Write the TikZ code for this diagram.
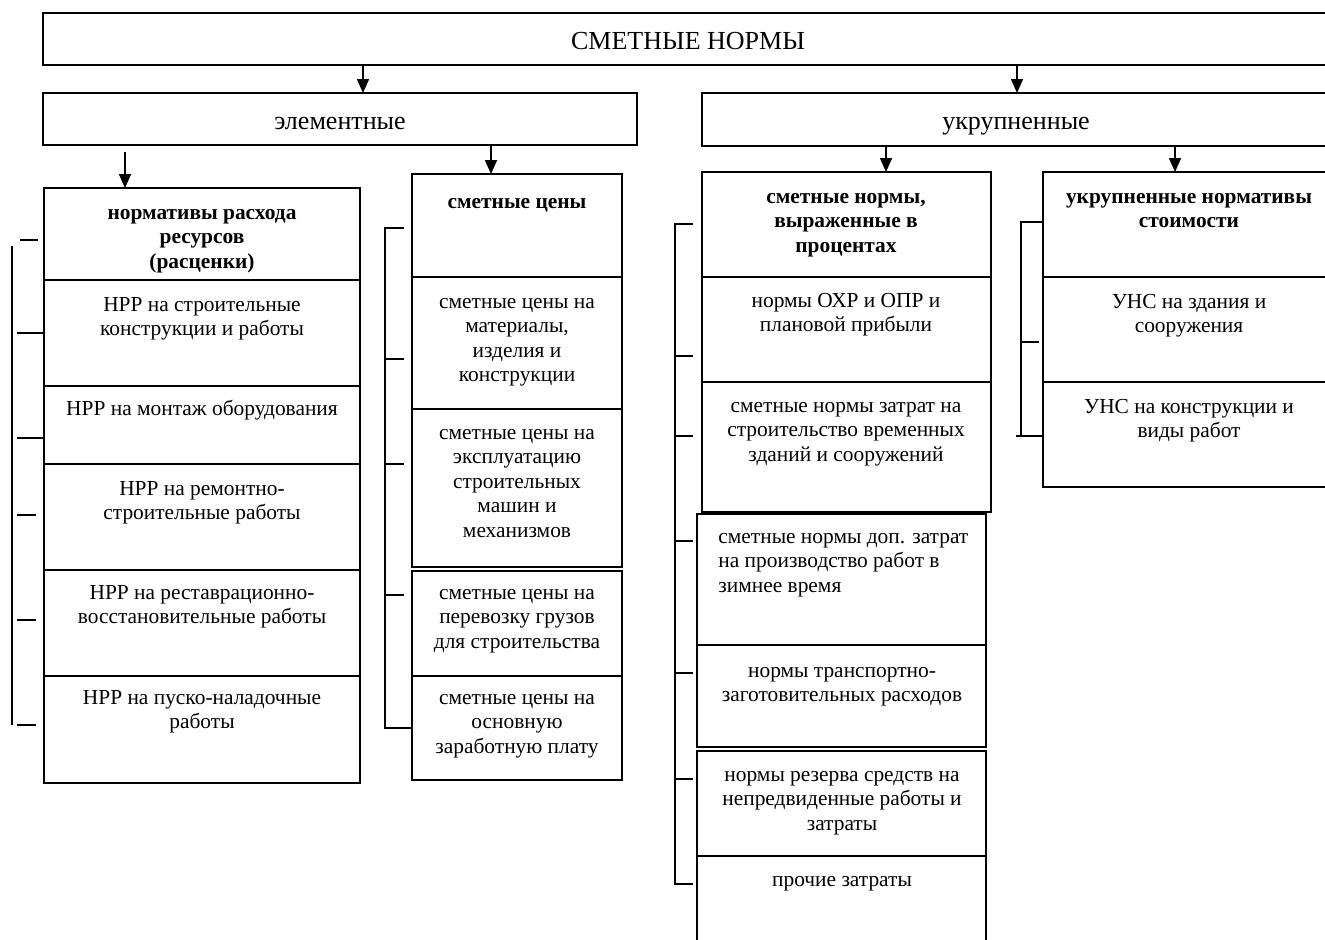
\documentclass[tikz,border=0pt]{standalone}
\usepackage{fontspec}
\setmainfont{Liberation Serif}
\usetikzlibrary{arrows.meta}
\newcommand\cellnode[5]{\node[cell, minimum width={(#4-#2)*0.5pt}, minimum height={(#5-#3)*0.5pt}] (#1) at (#2,#3) {};}
\begin{document}
\begin{tikzpicture}[x=0.5pt,y=-0.5pt,
 cell/.style={draw, line width=1pt, inner sep=0pt, outer sep=0pt, anchor=north west},
 txt/.style={align=center, inner sep=0pt, font=\fontsize{10.7}{12.3}\selectfont, anchor=base},
 btxt/.style={txt, font=\fontsize{10.7}{12.3}\selectfont\bfseries},
 big/.style={inner sep=0pt, anchor=base, font=\fontsize{13}{15}\selectfont},
 arr/.style={line width=0.8pt, -{Triangle[length=7pt,width=6pt]}},
 br/.style={line width=0.7pt}]
\useasboundingbox (0,0) rectangle (1325,939);
\clip (0,0) rectangle (1325,939);
% level 0 and 1
\cellnode{top}{43}{13}{1345}{65}
\node[big] (ttop) at (688,49) {СМЕТНЫЕ НОРМЫ};
\cellnode{elem}{43}{93}{637}{145}
\node[big] (telem) at (340,129) {элементные};
\cellnode{ukr}{702}{93}{1345}{146}
\node[big] (tukr) at (1016,129) {укрупненные};
% column 1: NRR
\cellnode{nh}{44}{188}{360}{280}
\node[btxt] (tnh) at (202,268.2) {нормативы расхода\\ресурсов\\(расценки)};
\cellnode{n1}{44}{280}{360}{386}
\node[txt] (tn1) at (202,335.6) {НРР на строительные\\конструкции и работы};
\cellnode{n2}{44}{386}{360}{464}
\node[txt] (tn2) at (202,415) {НРР на монтаж оборудования};
\cellnode{n3}{44}{464}{360}{570}
\node[txt] (tn3) at (202,519.6) {НРР на ремонтно-\\строительные работы};
\cellnode{n4}{44}{570}{360}{676}
\node[txt] (tn4) at (202,623.6) {НРР на реставрационно-\\восстановительные работы};
\cellnode{n5}{44}{676}{360}{783}
\node[txt] (tn5) at (202,728.6) {НРР на пуско-наладочные\\работы};
% column 2: prices
\cellnode{ch}{412}{174}{622}{277}
\node[btxt] (tch) at (517,208) {сметные цены};
\cellnode{c1}{412}{277}{622}{409}
\node[txt] (tc1) at (517,381.8) {сметные цены на\\материалы,\\изделия и\\конструкции};
\cellnode{c2}{412}{409}{622}{567}
\node[txt] (tc2) at (517,537.4) {сметные цены на\\эксплуатацию\\строительных\\машин и\\механизмов};
\cellnode{c3}{412}{571}{622}{676}
\node[txt] (tc3) at (517,648.2) {сметные цены на\\перевозку грузов\\для строительства};
\cellnode{c4}{412}{676}{622}{780}
\node[txt] (tc4) at (517,753.2) {сметные цены на\\основную\\заработную плату};
% column 3: percent
\cellnode{ph}{702}{172}{991}{277}
\node[btxt] (tph) at (846,252.2) {сметные нормы,\\выраженные в\\процентах};
\cellnode{p1}{702}{277}{991}{382}
\node[txt] (tp1) at (846,331.6) {нормы ОХР и ОПР и\\плановой прибыли};
\cellnode{p2}{702}{382}{991}{512}
\node[txt] (tp2) at (846,461.2) {сметные нормы затрат на\\строительство временных\\зданий и сооружений};
\cellnode{p3}{697}{514}{986}{645}
\node[txt, align=left, anchor=base west] (tp3) at (718,592.2) {сметные нормы доп. затрат\\на производство работ в\\зимнее время};
\cellnode{p4}{697}{645}{986}{747}
\node[txt] (tp4) at (842,701.6) {нормы транспортно-\\заготовительных расходов};
\cellnode{p5}{697}{751}{986}{856}
\node[txt] (tp5) at (842,830.2) {нормы резерва средств на\\непредвиденные работы и\\затраты};
\cellnode{p6}{697}{856}{986}{960}
\node[txt] (tp6) at (842,886) {прочие затраты};
% column 4: UNS
\cellnode{uh}{1043}{172}{1345}{277}
\node[btxt] (tuh) at (1189,227.6) {укрупненные нормативы\\стоимости};
\cellnode{u1}{1043}{277}{1345}{382}
\node[txt] (tu1) at (1189,332.6) {УНС на здания и\\сооружения};
\cellnode{u2}{1043}{382}{1345}{487}
\node[txt] (tu2) at (1189,437.6) {УНС на конструкции и\\виды работ};
% arrows
\coordinate (xa1) at (363,0);
\coordinate (xa2) at (1017,0);
\coordinate (xa4) at (491,0);
\coordinate (xa5) at (886,0);
\coordinate (xa6) at (1175,0);
\coordinate (s3) at (125,152);
\draw[arr] (top.south -| xa1) -- (elem.north -| xa1);
\draw[arr] (top.south -| xa2) -- (ukr.north -| xa2);
\draw[arr] (s3) -- (nh.north -| s3);
\draw[arr] (elem.south -| xa4) -- (ch.north -| xa4);
\draw[arr] (ukr.south -| xa5) -- (ph.north -| xa5);
\draw[arr] (ukr.south -| xa6) -- (uh.north -| xa6);
% bracket 1
\draw[br] (12,246) -- (12,725);
\draw[br] (20,240) -- (38,240);
\draw[br] (17,333) -- (n1.west |- 0,333);
\draw[br] (17,438) -- (n2.west |- 0,438);
\draw[br] (17,515) -- (36,515);
\draw[br] (17,620) -- (36,620);
\draw[br] (17,725) -- (36,725);
% bracket 2
\draw[br] (404,228) -- (385,228) -- (385,728) -- (c4.west |- 0,728);
\foreach \yy in {359,464,595} \draw[br] (385,\yy) -- (404,\yy);
% bracket 3
\draw[br] (693,224) -- (675,224) -- (675,884) -- (693,884);
\foreach \yy in {356,436,541,673,779} \draw[br] (675,\yy) -- (693,\yy);
% bracket 4
\draw[br] (uh.west |- 0,222) -- (1021,222) -- (1021,436);
\draw[br] (1021,342) -- (1039,342);
\draw[br] (1016,436) -- (u2.west |- 0,436);
\end{tikzpicture}
\end{document}
